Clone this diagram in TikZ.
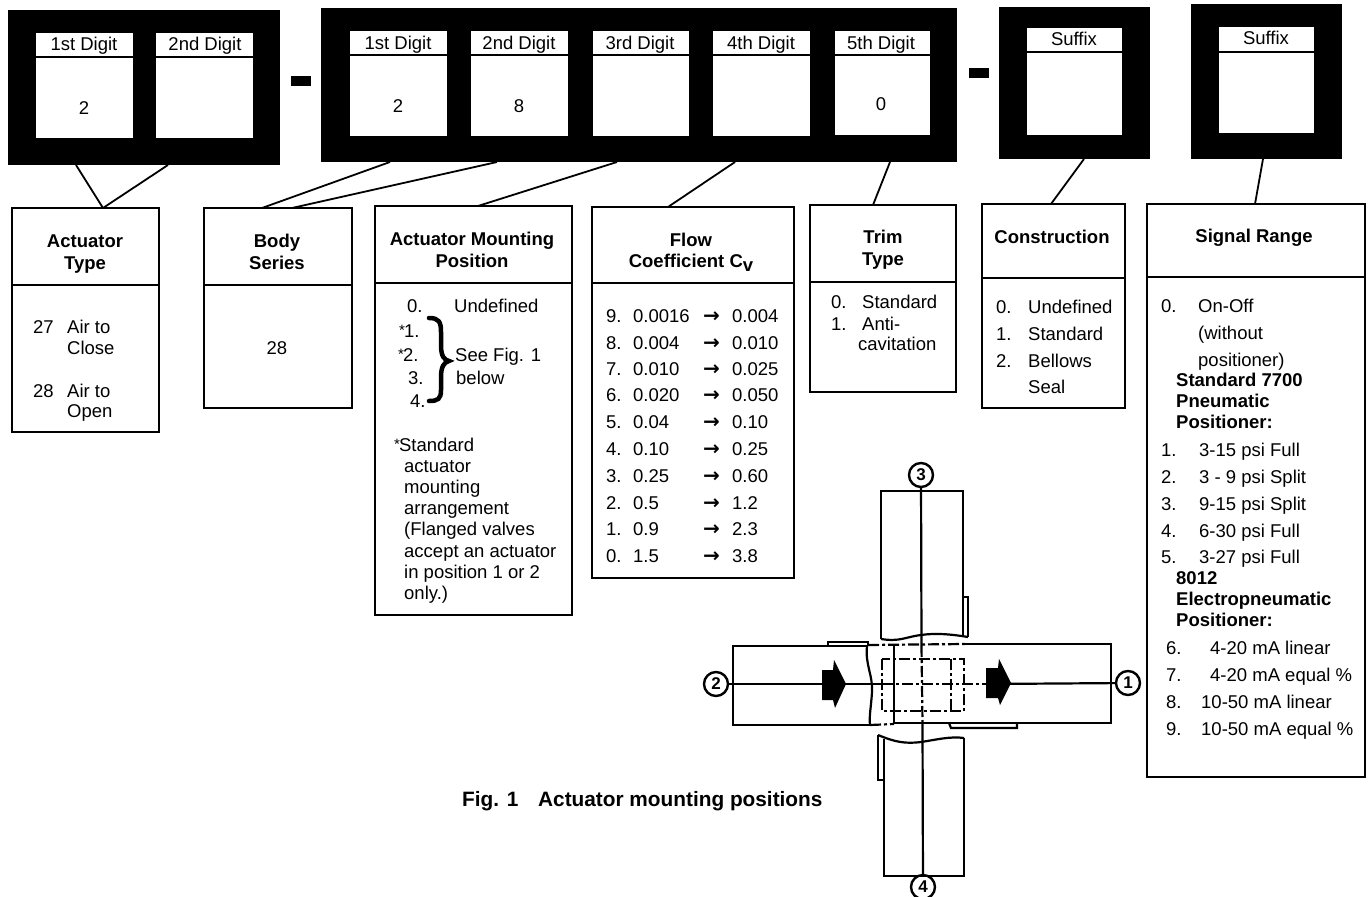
\documentclass[tikz,border=0pt]{standalone}
\usepackage{fontspec}
\setmainfont{Liberation Sans}
\newfontfamily\arrowfont{DejaVu Sans}
\newcounter{tn}
\newcommand\bx[6]{\pgfmathsetmacro\myw{#5-#3}\pgfmathsetmacro\myh{#6-#4}\pgfmathsetmacro\mycx{(#3+#5)/2}\pgfmathsetmacro\mycy{(#4+#6)/2}\node[#1,minimum width=\myw pt,minimum height=\myh pt] (#2) at (\mycx,\mycy) {};}
\newcommand\txl[3]{\stepcounter{tn}\node[txtl] (t\thetn) at (#1,#2) {#3};}
\newcommand\txc[3]{\stepcounter{tn}\node[txtc] (t\thetn) at (#1,#2) {#3};}
\newcommand\bfc[3]{\stepcounter{tn}\node[txtc,font=\fontsize{18.5}{20}\selectfont\bfseries] (t\thetn) at (#1,#2) {#3};}
\newcommand\bfl[3]{\stepcounter{tn}\node[txtl,font=\fontsize{18.5}{20}\selectfont\bfseries] (t\thetn) at (#1,#2) {#3};}
\newcommand\capt[3]{\stepcounter{tn}\node[txtl,font=\fontsize{20.8}{22}\selectfont\bfseries] (t\thetn) at (#1,#2) {#3};}
\newcommand\astk{\raisebox{2pt}{\fontsize{15}{15}\selectfont *}\kern-1pt}
\tikzset{
  blk/.style={fill=black,draw=none,inner sep=0,outer sep=0},
  win/.style={fill=white,draw=none,inner sep=0,outer sep=0},
  tbl/.style={fill=white,draw=black,line width=2.2pt,inner sep=0,outer sep=0},
  txtl/.style={inner sep=0,anchor=base west,font=\fontsize{18.5}{20}\selectfont},
  txtc/.style={inner sep=0,anchor=base,font=\fontsize{18.5}{20}\selectfont},
  conn/.style={line width=1.8pt},
  divl/.style={line width=2.2pt},
  fig/.style={line width=2.2pt},
  figd/.style={line width=2.2pt,dash pattern=on 11pt off 3pt on 3pt off 3pt},
  numc/.style={circle,draw=black,line width=2.4pt,fill=white,minimum size=24pt,inner sep=0,font=\fontsize{17}{17}\selectfont\bfseries}
}
\begin{document}
\begin{tikzpicture}[x=1pt,y=-1pt]
\useasboundingbox (0,0) rectangle (1369,897);
\fill[white] (0,0) rectangle (1369,897);
% black panels
\bx{blk}{PA}{8}{10}{280}{165}
\bx{blk}{PB}{321}{8}{957}{162}
\bx{blk}{PC}{999}{7}{1150}{159}
\bx{blk}{PD}{1191}{4}{1342}{159}
\bx{blk}{dashA}{291}{76}{311}{86}
\bx{blk}{dashB}{969}{68}{989}{78}
% digit windows
\bx{win}{w1}{36}{33}{133}{138}
\bx{win}{w2}{156}{33}{253}{138}
\bx{win}{w3}{350}{31}{447}{136}
\bx{win}{w4}{471}{31}{568}{136}
\bx{win}{w5}{593}{31}{689}{136}
\bx{win}{w6}{713}{31}{810}{136}
\bx{win}{w7}{835}{31}{930}{135}
\bx{win}{w8}{1027}{28}{1122}{135}
\bx{win}{w9}{1219}{27}{1314}{133}
\foreach \n/\y in {w1/57,w2/57,w3/55,w4/55,w5/55,w6/55,w7/55,w8/52,w9/52}
  \draw[line width=1.4pt] (\n.west |- 0,\y) -- (\n.east |- 0,\y);
% digit labels
\txc{84}{50}{1st Digit}
\txc{205}{50}{2nd Digit}
\txc{398}{49}{1st Digit}
\txc{519}{49}{2nd Digit}
\txc{640}{49}{3rd Digit}
\txc{761}{49}{4th Digit}
\txc{881}{49}{5th Digit}
\txc{1074}{45}{Suffix}
\txc{1266}{44}{Suffix}
\txc{84}{114}{2}
\txc{398}{112}{2}
\txc{519}{112}{8}
\txc{881}{110}{0}
% tables
\bx{tbl}{T1}{12}{208}{159}{432}
\bx{tbl}{T2}{204}{208}{352}{408}
\bx{tbl}{T3}{375}{206}{572}{615}
\bx{tbl}{T4}{592}{207}{794}{578}
\bx{tbl}{T5}{810}{205}{956}{392}
\bx{tbl}{T6}{982}{204}{1125}{408}
\bx{tbl}{T7}{1147}{204}{1365}{777}
\foreach \n/\y in {T1/285,T2/285,T3/283,T4/283,T5/282,T6/278,T7/277}
  \draw[divl] (\n.west |- 0,\y) -- (\n.east |- 0,\y);
% connectors
\draw[conn] ([xshift=68pt]PA.south west) -- ([xshift=91pt]T1.north west);
\draw[conn] ([xshift=160pt]PA.south west) -- ([xshift=91pt]T1.north west);
\draw[conn] ([xshift=69pt]PB.south west) -- ([xshift=58pt]T2.north west);
\draw[conn] ([xshift=176pt]PB.south west) -- ([xshift=88pt]T2.north west);
\draw[conn] ([xshift=296pt]PB.south west) -- ([xshift=103pt]T3.north west);
\draw[conn] ([xshift=414pt]PB.south west) -- ([xshift=76pt]T4.north west);
\draw[conn] ([xshift=569pt]PB.south west) -- ([xshift=63pt]T5.north west);
\draw[conn] ([xshift=85pt]PC.south west) -- ([xshift=69pt]T6.north west);
\draw[conn] ([xshift=72pt]PD.south west) -- ([xshift=108pt]T7.north west);
% Actuator type
\bfc{85}{247}{Actuator}
\bfc{85}{269}{Type}
\txl{33}{333}{27}
\txl{67}{333}{Air to}
\txl{67}{354}{Close}
\txl{33}{397}{28}
\txl{67}{397}{Air to}
\txl{67}{417}{Open}
% Body series
\bfc{277}{247}{Body}
\bfc{277}{269}{Series}
\txc{277}{354}{28}
% Mounting position
\bfc{472}{245}{Actuator Mounting}
\bfc{472}{267}{Position}
\txl{407}{312}{0.}
\txl{454}{312}{Undefined}
\txl{399}{337}{\astk 1.}
\txl{398}{361}{\astk 2.}
\txl{408}{384}{3.}
\txl{410}{407}{4.}
\txl{455}{361}{See Fig. 1}
\txl{456}{384}{below}
\draw[line width=4.5pt,line cap=round] (429,318) .. controls (439,318) and (441,322) .. (441,332) -- (441,345) .. controls (441,356) and (444,360) .. (449,361) .. controls (444,362) and (441,367) .. (441,377) -- (441,390) .. controls (441,399) and (438,401) .. (429,401);
\txl{394}{451}{\astk Standard}
\txl{404}{472}{actuator}
\txl{404}{493}{mounting}
\txl{404}{514}{arrangement}
\txl{404}{535}{(Flanged valves}
\txl{404}{557}{accept an actuator}
\txl{404}{578}{in position 1 or 2}
\txl{404}{599}{only.)}
% Flow coefficient
\bfc{691}{246}{Flow}
\bfc{691}{267}{Coefficient C\raisebox{-4pt}{v}}
\foreach \a/\b/\c/\y in {9./0.0016/0.004/322,8./0.004/0.010/349,7./0.010/0.025/375,6./0.020/0.050/401,5./0.04/0.10/428,4./0.10/0.25/455,3./0.25/0.60/482,2./0.5/1.2/509,1./0.9/2.3/535,0./1.5/3.8/562}{
  \txl{606}{\y}{\a}
  \txl{633}{\y}{\b}
  \txl{703}{\y}{\arrowfont\bfseries\fontsize{20}{20}\selectfont →}
  \txl{732}{\y}{\c}
}
% Trim
\bfc{883}{243}{Trim}
\bfc{883}{265}{Type}
\txl{831}{308}{0.}
\txl{862}{308}{Standard}
\txl{831}{330}{1.}
\txl{862}{330}{Anti-}
\txl{858}{350}{cavitation}
% Construction
\bfc{1052}{243}{Construction}
\txl{996}{313}{0.}
\txl{1028}{313}{Undefined}
\txl{996}{340}{1.}
\txl{1028}{340}{Standard}
\txl{996}{367}{2.}
\txl{1028}{367}{Bellows}
\txl{1028}{393}{Seal}
% Signal range
\bfc{1254}{242}{Signal Range}
\txl{1161}{312}{0.}
\txl{1198}{312}{On-Off}
\txl{1198}{339}{(without}
\txl{1198}{366}{positioner)}
\bfl{1176}{386}{Standard 7700}
\bfl{1176}{407}{Pneumatic}
\bfl{1176}{428}{Positioner:}
\txl{1161}{456}{1.}
\txl{1199}{456}{3-15 psi Full}
\txl{1161}{483}{2.}
\txl{1199}{483}{3 - 9 psi Split}
\txl{1161}{510}{3.}
\txl{1199}{510}{9-15 psi Split}
\txl{1161}{537}{4.}
\txl{1199}{537}{6-30 psi Full}
\txl{1161}{563}{5.}
\txl{1199}{563}{3-27 psi Full}
\bfl{1176}{584}{8012}
\bfl{1176}{605}{Electropneumatic}
\bfl{1176}{626}{Positioner:}
\txl{1166}{654}{6.}
\txl{1210}{654}{4-20 mA linear}
\txl{1166}{681}{7.}
\txl{1210}{681}{4-20 mA equal \%}
\txl{1166}{708}{8.}
\txl{1201}{708}{10-50 mA linear}
\txl{1166}{735}{9.}
\txl{1201}{735}{10-50 mA equal \%}
% caption
\capt{462}{806}{Fig. 1}
\capt{538}{806}{Actuator mounting positions}
% figure: actuator positions
\node[numc] (n1) at (1128,683) {1};
\node[numc] (n2) at (716,684) {2};
\node[numc] (n3) at (921,475) {3};
\node[numc] (n4) at (923,887) {4};
% vertical body top
\draw[fig] (881,639) -- (881,491) -- (963,491) -- (963,636);
\draw[fig] (881,639) .. controls (900,642) and (905,637) .. (921,635) .. controls (935,633) and (950,634) .. (968,637);
\draw[fig] (963,597) -- (968,597) -- (968,637);
% vertical body bottom
\draw[fig] (884,739) -- (884,876) -- (964,876) -- (964,738);
\draw[fig] (878,735) .. controls (895,742) and (905,744) .. (921,742) .. controls (935,740) and (950,736) .. (964,738);
\draw[fig] (878,735) -- (878,780) -- (884,780);
% horizontal left
\draw[fig] (867,646) -- (733,646) -- (733,725) -- (870,725);
\draw[fig] (867,646) .. controls (865,665) and (873,675) .. (872,692) .. controls (871,708) and (869,716) .. (870,725);
\draw[fig] (828,646) -- (828,642) -- (868,642) -- (868,646);
% horizontal right
\draw[fig] (965,644) -- (1111,644) -- (1111,723) -- (894,723) -- (894,644);
\draw[figd] (868,645) -- (965,644);
\draw[figd] (870,725) -- (894,724);
\draw[fig] (949,723) -- (951,728) -- (1017,728) -- (1017,723);
% hidden square
\draw[figd] (882,659) rectangle (964,711);
\draw[figd] (951,659) -- (951,711);
% centre lines
\draw[fig] (n3) -- (921.5,646);
\draw[figd] (921.5,646) -- (922.5,723);
\draw[fig] (922.5,723) -- (n4);
\draw[fig] (n2) -- (882,684);
\draw[figd] (882,684) -- (986,684);
\draw[fig] (986,684) -- (n1);
% flow arrows
\fill (822,670) -- (833,670) -- (834,660) -- (846,684) -- (835,708) -- (833,700) -- (822,700) -- cycle;
\fill (986,668) -- (998,668) -- (999,659) -- (1011,683) -- (1000,705) -- (998,698) -- (986,698) -- cycle;
\end{tikzpicture}
\end{document}
